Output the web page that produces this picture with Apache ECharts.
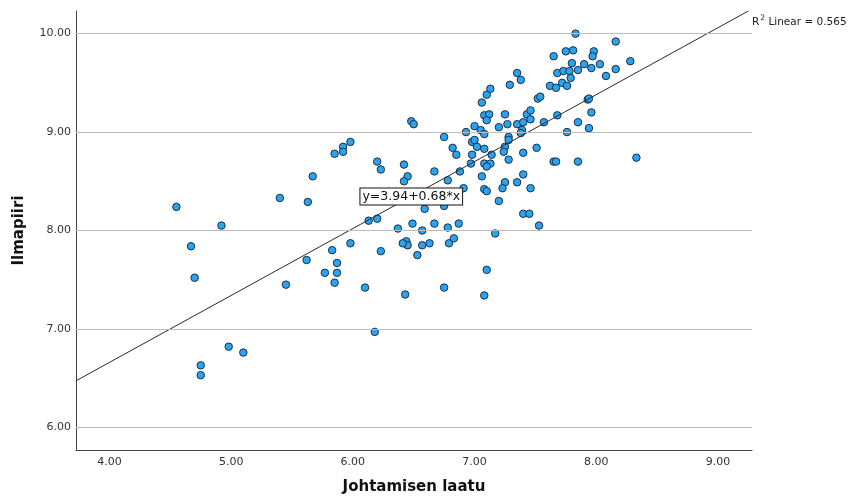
<!DOCTYPE html>
<html><head><meta charset="utf-8">
<script src="https://cdn.jsdelivr.net/npm/echarts@6/dist/echarts.min.js"></script>
<style>html,body{margin:0;padding:0;background:#fff}#c{width:850px;height:501px}</style>
</head><body><div id="c"></div>
<script>
// Johtamisen laatu (x) and Ilmapiiri (y)
const johtamisenLaatu = [
4.55,4.67,4.70,4.75,4.75,4.98,5.10,4.92,5.40,5.45,
5.62,5.63,5.67,5.83,5.98,5.87,5.77,5.87,5.85,6.10,
6.23,6.18,6.43,5.98,5.92,5.92,5.85,6.20,6.23,6.42,
6.45,6.42,6.67,6.48,6.50,6.59,6.13,6.20,6.37,6.49,
6.57,6.67,6.78,6.44,6.45,6.57,6.63,6.53,6.75,6.79,
6.83,6.87,6.75,6.75,6.93,6.78,6.88,6.82,6.85,6.91,
6.97,6.98,6.98,7.00,7.02,7.00,7.05,7.08,7.06,7.08,
7.08,7.13,7.10,7.08,7.10,7.14,7.06,7.10,7.13,7.08,
7.12,7.10,7.20,7.25,7.27,7.29,7.35,7.38,7.35,7.40,
7.39,7.38,7.43,7.46,7.46,7.52,7.54,7.57,7.28,7.28,
7.25,7.24,7.28,7.40,7.51,7.25,7.23,7.35,7.40,7.46,
7.20,7.40,7.45,7.53,7.17,7.65,7.67,7.85,8.33,7.68,
7.76,7.85,7.94,7.96,7.93,7.94,7.83,8.16,7.75,7.81,
7.98,7.97,7.65,7.80,7.90,8.03,8.28,7.68,7.73,7.78,
7.85,7.96,8.16,8.08,7.79,7.72,7.76,7.62,7.67,7.08,
7.10,6.41
];
const ilmapiiri = [
8.24,7.84,7.52,6.63,6.53,6.82,6.76,8.05,8.33,7.45,
7.70,8.29,8.55,7.80,7.87,7.67,7.57,7.57,7.47,7.42,
7.79,6.97,7.35,8.90,8.85,8.80,8.78,8.70,8.62,8.67,
8.55,8.50,8.60,9.11,9.08,8.22,8.10,8.12,8.02,8.07,
8.00,8.07,8.03,7.89,7.85,7.85,7.87,7.75,7.42,7.87,
7.92,8.07,8.25,8.95,9.00,8.51,8.60,8.84,8.77,8.43,
8.68,8.77,8.90,8.92,8.85,9.06,9.02,8.98,8.55,8.83,
8.68,8.68,8.65,8.42,8.40,8.77,9.30,9.38,9.44,9.17,
9.18,9.12,9.05,9.18,9.08,9.48,9.60,9.53,9.08,9.10,
9.02,8.99,9.18,9.22,9.13,9.34,9.36,9.10,8.95,8.92,
8.85,8.80,8.72,8.79,8.84,8.49,8.43,8.49,8.57,8.43,
8.30,8.17,8.17,8.05,7.97,8.70,8.70,8.70,8.74,9.17,
9.00,9.10,9.04,9.20,9.33,9.34,10.00,9.92,9.82,9.83,
9.82,9.77,9.77,9.70,9.69,9.69,9.72,9.60,9.62,9.62,
9.63,9.65,9.64,9.57,9.55,9.50,9.47,9.47,9.45,7.34,
7.60,7.87
];
const xTicks = [4, 5, 6, 7, 8, 9];
const yTicks = [6, 7, 8, 9, 10];
const xTitle = 'Johtamisen laatu';
const yTitle = 'Ilmapiiri';
const intercept = 3.94, slope = 0.68, rSquared = 0.565;
const equationX = 6.48;

const xMin = 3.725, xMax = 9.28, yMin = 5.77, yMax = 10.23;
const FONT = 'DejaVu Sans';

const points = johtamisenLaatu.map((x, i) => [x, ilmapiiri[i]]);
const fit = x => intercept + slope * x;
const xEnd = (yMax - intercept) / slope;
const fitData = [[xMin, fit(xMin)], [xEnd, fit(xEnd)]];

const chart = echarts.init(document.getElementById('c'), null, {renderer: 'canvas'});
chart.setOption({
  animation: false,
  backgroundColor: '#fff',
  grid: {left: 76, right: 98, top: 11, bottom: 51},
  xAxis: {
    type: 'value', min: xMin, max: xMax,
    name: xTitle, nameLocation: 'middle', nameGap: 30,
    nameTextStyle: {fontFamily: FONT, fontWeight: 'bold', fontSize: 15, color: '#111'},
    axisLine: {show: true, onZero: false, lineStyle: {color: '#444', width: 1}},
    axisTick: {show: false},
    splitLine: {show: false},
    axisLabel: {customValues: xTicks, formatter: v => v.toFixed(2), fontFamily: FONT, fontSize: 11, color: '#333', margin: 7}
  },
  yAxis: {
    type: 'value', min: yMin, max: yMax,
    name: yTitle, nameLocation: 'middle', nameGap: 49, nameRotate: 90,
    nameTextStyle: {fontFamily: FONT, fontWeight: 'bold', fontSize: 15, color: '#111'},
    axisLine: {show: true, onZero: false, lineStyle: {color: '#444', width: 1}},
    axisTick: {show: false},
    splitLine: {show: false},
    axisLabel: {customValues: yTicks, formatter: v => v.toFixed(2), fontFamily: FONT, fontSize: 11, color: '#333', margin: 5}
  },
  series: [
    {
      type: 'line', data: [], z: 1, silent: true,
      markLine: {
        silent: true, symbol: ['none', 'none'], animation: false,
        label: {show: false},
        lineStyle: {color: '#bdbdbd', type: 'solid', width: 1},
        data: yTicks.map(v => ({yAxis: v}))
      }
    },
    {
      type: 'scatter', data: points, z: 2,
      symbol: 'circle', symbolSize: 7.5,
      itemStyle: {color: '#2ba3ef', borderColor: '#1c2f45', borderWidth: 1, opacity: 1}
    },
    {
      type: 'line', data: fitData, z: 3, symbol: 'none', silent: true,
      lineStyle: {color: '#2a2a2a', width: 1},
      markPoint: {
        symbol: 'rect', symbolSize: 0, silent: true,
        data: [{coord: [equationX, fit(equationX)]}],
        label: {
          show: true, position: 'inside',
          formatter: 'y=' + intercept.toFixed(2) + '+' + slope.toFixed(2) + '*x',
          fontFamily: FONT, fontSize: 12.5, color: '#111',
          backgroundColor: '#fff', borderColor: '#111', borderWidth: 1,
          padding: [2, 2, 1, 2]
        }
      }
    }
  ],
  graphic: [
    {
      type: 'text', left: 752, top: 14,
      style: {
        text: '{r|R}{s|2}{r| Linear = ' + rSquared.toFixed(3) + '}',
        rich: {
          r: {fontFamily: FONT, fontSize: 10.5, fill: '#222', verticalAlign: 'bottom'},
          s: {fontFamily: FONT, fontSize: 7.5, fill: '#222', verticalAlign: 'top', padding: [0, 0, 6, 1]}
        }
      }
    }
  ]
});
</script>
</body></html>
